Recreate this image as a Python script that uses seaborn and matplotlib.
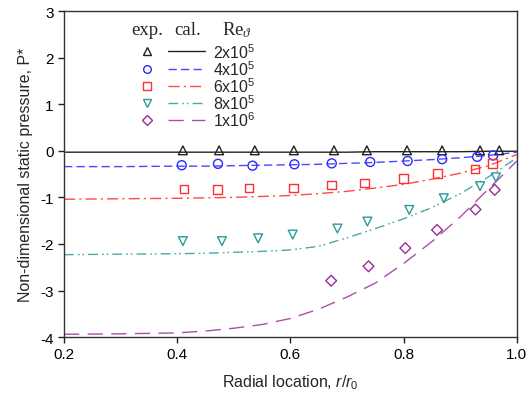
import matplotlib
matplotlib.use("Agg")
import matplotlib.pyplot as plt
import seaborn as sns
import pandas as pd

# ---- experimental data (markers) ----
x_2e5 = [0.410, 0.474, 0.537, 0.606, 0.677, 0.735, 0.806, 0.868, 0.935, 0.969]
y_2e5 = [0.01, 0.01, 0.01, 0.01, 0.01, 0.01, 0.01, 0.01, 0.01, 0.01]
x_4e5 = [0.408, 0.472, 0.533, 0.607, 0.673, 0.741, 0.807, 0.868, 0.930, 0.958]
y_4e5 = [-0.31, -0.28, -0.32, -0.29, -0.27, -0.24, -0.22, -0.18, -0.13, -0.10]
x_6e5 = [0.412, 0.471, 0.527, 0.605, 0.673, 0.731, 0.800, 0.860, 0.926, 0.957]
y_6e5 = [-0.82, -0.83, -0.80, -0.80, -0.73, -0.69, -0.60, -0.49, -0.39, -0.27]
x_8e5 = [0.410, 0.479, 0.543, 0.604, 0.683, 0.736, 0.810, 0.871, 0.935, 0.963]
y_8e5 = [-1.94, -1.94, -1.88, -1.80, -1.67, -1.52, -1.27, -1.02, -0.76, -0.57]
x_1e6 = [0.672, 0.738, 0.803, 0.859, 0.927, 0.961]
y_1e6 = [-2.79, -2.48, -2.09, -1.70, -1.26, -0.84]

# ---- calculated curves (lines) ----
r_cal = [0.2, 0.3, 0.4, 0.45, 0.5, 0.55, 0.6, 0.65, 0.7, 0.75, 0.8, 0.85, 0.9, 0.95, 1.0]
c_2e5 = [-0.03, -0.03, -0.03, -0.03, -0.03, -0.03, -0.03, -0.03, -0.03, -0.02, -0.02, -0.02, -0.02, -0.01, -0.01]
c_4e5 = [-0.34, -0.34, -0.33, -0.33, -0.32, -0.31, -0.30, -0.29, -0.27, -0.25, -0.22, -0.19, -0.15, -0.10, -0.03]
c_6e5 = [-1.04, -1.03, -1.02, -1.01, -1.00, -0.98, -0.96, -0.92, -0.87, -0.80, -0.72, -0.61, -0.48, -0.32, -0.08]
c_8e5 = [-2.23, -2.22, -2.21, -2.20, -2.18, -2.16, -2.13, -2.05, -1.87, -1.67, -1.46, -1.22, -0.92, -0.56, -0.15]
c_1e6 = [-3.94, -3.93, -3.91, -3.87, -3.81, -3.73, -3.60, -3.40, -3.14, -2.84, -2.42, -1.95, -1.42, -0.82, -0.22]

labels = ["2x10$^5$", "4x10$^5$", "6x10$^5$", "8x10$^5$", "1x10$^6$"]

sns.set_style("ticks")
plt.rcParams["font.family"] = ["Liberation Sans", "DejaVu Sans"]
plt.rcParams["axes.unicode_minus"] = False
plt.rcParams["mathtext.fontset"] = "custom"
plt.rcParams["mathtext.rm"] = "Liberation Sans"
plt.rcParams["mathtext.it"] = "Liberation Sans:italic"
plt.rcParams["mathtext.sf"] = "Liberation Serif:italic"
plt.rcParams["mathtext.default"] = "regular"

fig = plt.figure(figsize=(5.29, 4.02), dpi=100)
ax = fig.add_axes([0.121, 0.159, 0.856, 0.811])

mk_colors = ["#222222", "#2a2aff", "#ff3030", "#2a9a9a", "#9a2a9a"]
ln_colors = ["#222222", "#4848ff", "#ff4848", "#4aa8a8", "#a850a8"]
markers = ["^", "o", "s", "v", "D"]
msizes = [40, 42, 38, 40, 30]
dashes = [(None), (6, 3), (8, 3, 1.5, 3), (7, 3, 1.2, 2, 1.2, 3), (11, 6)]

exp_x = [x_2e5, x_4e5, x_6e5, x_8e5, x_1e6]
exp_y = [y_2e5, y_4e5, y_6e5, y_8e5, y_1e6]
cal_y = [c_2e5, c_4e5, c_6e5, c_8e5, c_1e6]

for i in range(5):
    dfl = pd.DataFrame({"r": r_cal, "p": cal_y[i]})
    sns.lineplot(data=dfl, x="r", y="p", ax=ax, color=ln_colors[i], lw=1.0,
                 sort=False, estimator=None, legend=False)
    if dashes[i] is not None:
        ax.lines[-1].set_dashes(dashes[i])
    dfm = pd.DataFrame({"r": exp_x[i], "p": exp_y[i]})
    sns.scatterplot(data=dfm, x="r", y="p", ax=ax, marker=markers[i], s=msizes[i],
                    facecolor="none", edgecolor=mk_colors[i], linewidth=1.0,
                    legend=False, zorder=3)

ax.set_xlim(0.2, 1.0)
ax.set_ylim(-4, 3)
ax.set_xticks([0.2, 0.4, 0.6, 0.8, 1.0])
ax.set_xticklabels(["0.2", "0.4", "0.6", "0.8", "1.0"])
ax.set_yticks([-4, -3, -2, -1, 0, 1, 2, 3])
ax.tick_params(axis="both", direction="out", length=4, width=1, colors="#222222",
               labelsize=11, labelcolor="black")
for s in ax.spines.values():
    s.set_visible(True)
    s.set_color("#333333")
    s.set_linewidth(1.0)
ax.set_xlabel("Radial location, $\\it{r}$/$\\it{r}_0$", fontsize=11.5, labelpad=8)
ax.set_ylabel("Non-dimensional static pressure, P*", fontsize=11.5, labelpad=5)

# ---- custom legend ----
tr = ax.transAxes
hy = 0.943
ax.text(0.183, hy, "exp.", transform=tr, ha="center", va="center",
        fontsize=13.5, family="Liberation Serif")
ax.text(0.273, hy, "cal.", transform=tr, ha="center", va="center",
        fontsize=13.5, family="Liberation Serif")
ax.text(0.350, hy, "Re$_{\\mathsf{ϑ}}$", transform=tr, ha="left", va="center",
        fontsize=13.5, family="Liberation Serif")
rows = [0.877, 0.822, 0.770, 0.718, 0.666]
for i, yy in enumerate(rows):
    ax.plot([0.183], [yy], transform=tr, marker=markers[i], ms=5.5 if i != 4 else 5,
            mfc="none", mec=mk_colors[i], mew=1.0, ls="none", clip_on=False)
    ln, = ax.plot([0.230, 0.311], [yy, yy], transform=tr, color=ln_colors[i], lw=1.0)
    if dashes[i] is not None:
        ln.set_dashes(dashes[i])
    ax.text(0.329, yy, labels[i], transform=tr, ha="left", va="center", fontsize=11.5)

fig.savefig("out.png", dpi=100)
